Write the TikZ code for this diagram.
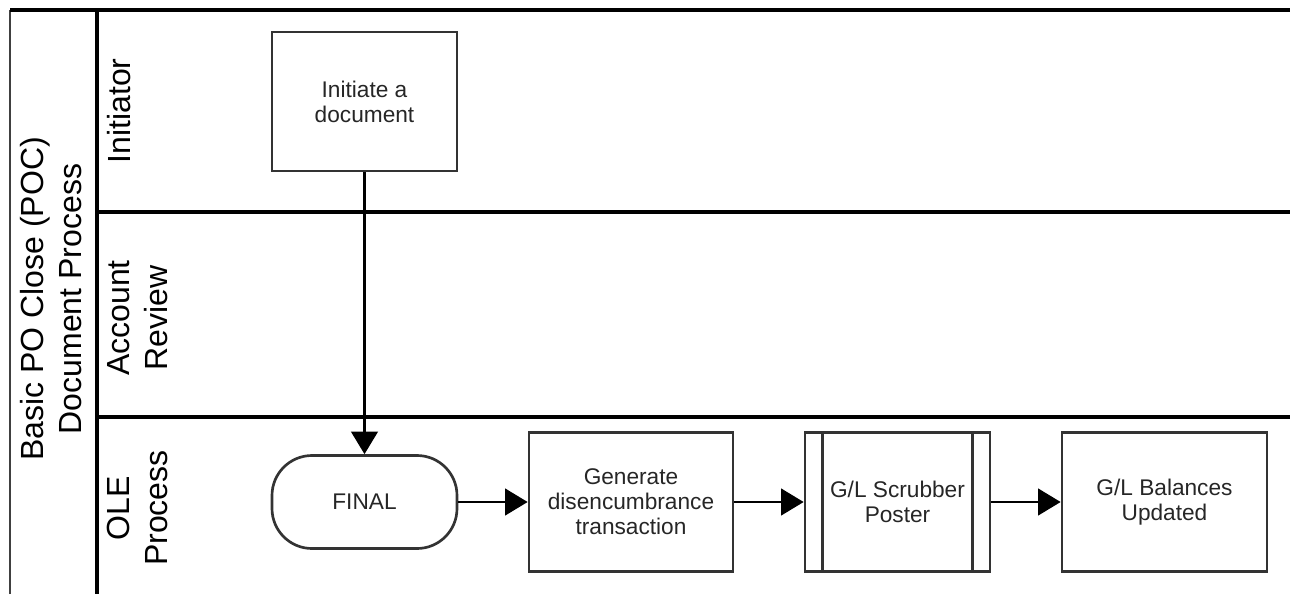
\documentclass[tikz,border=0pt]{standalone}
\usepackage{fontspec}
\setmainfont{Liberation Sans}
\usetikzlibrary{arrows.meta}
\begin{document}
\begin{tikzpicture}[x=0.75pt,y=-0.75pt,
  lane/.style={line width=2.3pt},
  lanelabel/.style={rotate=90,anchor=north,inner sep=0pt,align=center,font=\fontsize{24}{28.5}\selectfont},
  task/.style={draw=black!80,line width=2pt,minimum height=104.25pt,inner sep=2pt,align=center,text=black!85,font=\fontsize{17}{18.75}\selectfont},
  flow/.style={line width=2pt,-{Triangle[length=17pt,width=20pt]}}]
\useasboundingbox (0,0) rectangle (1290,594);
\draw[line width=1.7pt,black!75] (10,594) -- (10,10);
\draw[lane] (10,10) -- (1290,10);
\draw[lane] (97,10) -- (97,594);
\draw[lane] (97,212) -- (1290,212);
\draw[lane] (97,417) -- (1290,417);
\node[lanelabel] (title) at (20,299) {Basic PO Close (POC)\\Document Process};
\node[lanelabel] (initiator) at (107,111) {Initiator};
\node[lanelabel] (review) at (107,318) {Account\\Review};
\node[lanelabel] (ole) at (107,508) {OLE\\Process};
\node[task,minimum width=138.75pt] (initdoc) at (364.5,101.5) {Initiate a\\document};
\node[task,minimum width=138.75pt,minimum height=69.75pt,rounded corners=30pt] (final) at (364.5,502) {FINAL};
\node[task,minimum width=153pt] (gendis) at (631,502) {Generate\\disencumbrance\\transaction};
\node[task,minimum width=138.75pt] (glscrub) at (897.5,502) {G/L Scrubber\\Poster};
\node[task,minimum width=153.75pt] (glbal) at (1164.5,502) {G/L Balances\\Updated};
\draw[draw=black!80,line width=2pt] ([xshift=14.25pt]glscrub.north west) -- ([xshift=14.25pt]glscrub.south west);
\draw[draw=black!80,line width=2pt] ([xshift=-14.25pt]glscrub.north east) -- ([xshift=-14.25pt]glscrub.south east);
\draw[flow] (initdoc) -- (final);
\draw[flow] (final) -- (gendis);
\draw[flow] (gendis) -- (glscrub);
\draw[flow] (glscrub) -- (glbal);
\end{tikzpicture}
\end{document}
